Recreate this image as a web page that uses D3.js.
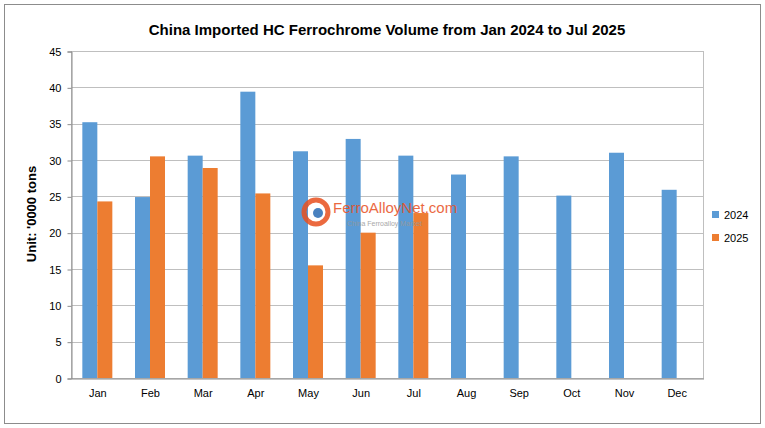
<!DOCTYPE html>
<html><head><meta charset="utf-8">
<script src="https://cdn.jsdelivr.net/npm/d3@7"></script>
<style>body{margin:0;background:#fff;font-family:Arial,"Liberation Sans",sans-serif}</style>
</head><body><svg id="chart" width="765" height="428"></svg>
<script>
const months = ['Jan','Feb','Mar','Apr','May','Jun','Jul','Aug','Sep','Oct','Nov','Dec']
const v2024 = [35.2, 24.9, 30.6, 39.4, 31.2, 32.9, 30.6, 28.0, 30.5, 25.1, 31.0, 25.9]
const v2025 = [24.3, 30.5, 28.9, 25.4, 15.5, 20.0, 22.7]
const yTicks = [0, 5, 10, 15, 20, 25, 30, 35, 40, 45]
const seriesNames = ['2024', '2025']
const colors = ['#5b9bd5', '#ed7d31']

const svg = d3.select('#chart')
svg.append('rect').attr('x', 4.5).attr('y', 4.5).attr('width', 756).attr('height', 419)
    .style('fill', '#fff').style('stroke', '#8c8c8c')

const m = {left: 71, right: 703, top: 51, bottom: 378}
const x = d3.scaleBand().domain(months).range([m.left, m.right])
const y = d3.scaleLinear().domain([0, 45]).range([m.bottom, m.top])

// grid
svg.append('g').selectAll('line').data(yTicks).join('line')
    .attr('x1', m.left).attr('x2', m.right)
    .attr('y1', d => Math.round(y(d)) + 0.5).attr('y2', d => Math.round(y(d)) + 0.5)
    .style('stroke', '#bfbfbf')
svg.append('rect').attr('x', m.left + 0.5).attr('y', m.top + 0.5)
    .attr('width', m.right - m.left).attr('height', m.bottom - m.top)
    .style('fill', 'none').style('stroke', '#bfbfbf')

// y axis
const yAxis = svg.append('g').attr('transform', `translate(${m.left + 0.5},0.5)`)
    .call(d3.axisLeft(y).tickValues(yTicks).tickSize(4).tickPadding(6))
yAxis.select('.domain').style('stroke', '#8c8c8c')
yAxis.selectAll('line').style('stroke', '#8c8c8c')
yAxis.selectAll('text').style('font-size', '11px').style('font-family', 'Arial, Liberation Sans').style('fill', '#000')

// x axis
const xAxis = svg.append('g').attr('transform', `translate(0.5,${m.bottom + 0.5})`)
    .call(d3.axisBottom(x).tickSize(0).tickPadding(11))
xAxis.select('.domain').style('stroke', '#8c8c8c')
xAxis.selectAll('text').style('font-size', '11px').style('font-family', 'Arial, Liberation Sans').style('fill', '#000')

const bw = 15
const data = [v2024, v2025]
data.forEach((vals, si) => {
    svg.append('g').selectAll('rect').data(vals).join('rect')
        .attr('x', (d, i) => x.bandwidth() / 2 + x(months[i]) - bw + si * bw)
        .attr('y', d => y(d))
        .attr('width', bw)
        .attr('height', d => y(0) - y(d))
        .style('fill', colors[si])
})

// watermark
const wm = svg.append('g').attr('opacity', 0.85)
wm.append('circle').attr('cx', 316).attr('cy', 212).attr('r', 12).style('fill', 'none')
    .style('stroke', '#e8501e').style('stroke-width', 5)
wm.append('circle').attr('cx', 318).attr('cy', 213).attr('r', 5).style('fill', '#2a6cb5')
wm.append('text').attr('x', 333).attr('y', 213).text('FerroAlloyNet.com')
    .style('font-size', '15px').style('fill', '#e8501e')
wm.append('text').attr('x', 347).attr('y', 226).text('China Ferroalloy Market')
    .style('font-size', '7px').style('fill', '#999')

// title
svg.append('text').attr('x', 387).attr('y', 35).attr('text-anchor', 'middle')
    .text('China Imported HC Ferrochrome Volume from Jan 2024 to Jul 2025')
    .style('font-size', '15px').style('font-weight', 'bold')

svg.append('text').attr('transform', 'translate(36,214) rotate(-90)').attr('text-anchor', 'middle')
    .text("Unit: '0000 tons").style('font-size', '13px').style('font-weight', 'bold')

// legend
seriesNames.forEach((n, i) => {
    svg.append('rect').attr('x', 712).attr('y', 211 + i * 23).attr('width', 7).attr('height', 7).style('fill', colors[i])
    svg.append('text').attr('x', 724).attr('y', 219 + i * 23).text(n).style('font-size', '11px')
})
</script></body></html>
